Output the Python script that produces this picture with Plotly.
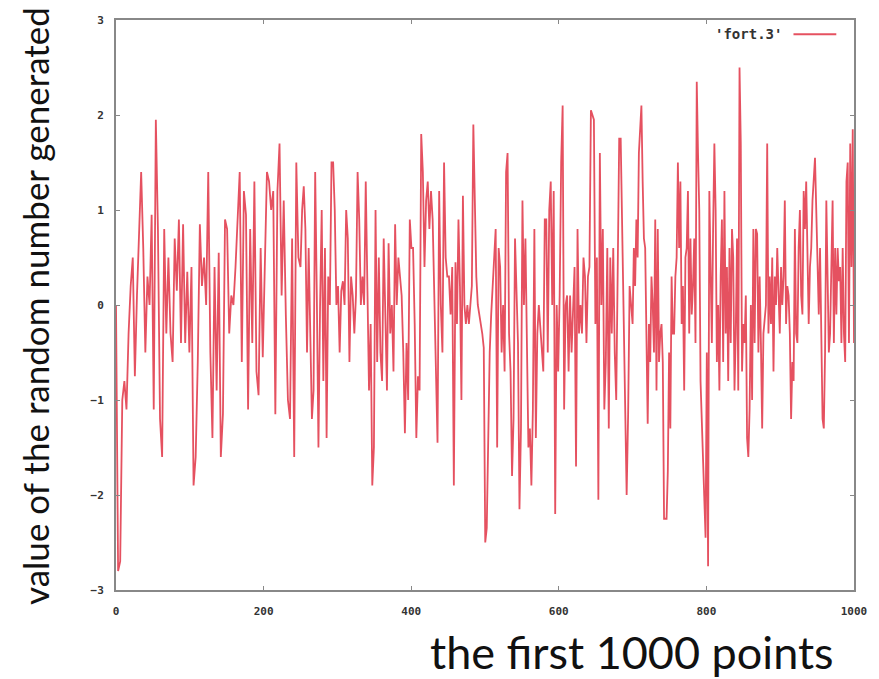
import numpy as np
import plotly.graph_objects as go

# values, by index ranges of the 1000 points
vals_0_250 = [0.0, -2.8, -2.7, -1.0, -0.8, -1.1, -0.3, 0.2, 0.5, -0.75, 0.1, 0.7, 1.4, 0.6, -0.5,
              0.3, 0.0, 0.95, -1.1, 1.95, 0.8, -1.2, -1.6, 0.8, -0.3, 0.5, -0.3, -0.6, 0.7, 0.15,
              0.9, -0.4, 0.85, -0.4, 0.35, -0.5, 0.4, -1.9, -1.6, -0.6, 0.85, 0.2, 0.5, 0.0, 1.4,
              -0.5, -1.4, 0.4, -0.9, 0.55, -1.6, -1.15, 0.9, 0.8, -0.3, 0.1, 0.0, 0.4, 1.0, 1.4,
              -0.6, 1.2, 0.95, -1.1, 0.8, -0.4, 1.3, -0.7, -0.95, 0.6, -0.55, 0.5, 1.4, 1.3, 1.0,
              1.2, -1.15, 1.2, 1.7, 0.1, 1.1, -0.1, -1.0, -1.2, 0.7, -1.6, 1.5, 0.5]
vals_250_460 = [0.4, 1.0, 1.25, 0.8, -0.5, 0.6, -0.3, -1.2, -0.9, 1.4, 0.1, -1.5, 0.0, 1.0, -0.8,
                0.6, -1.4, 0.3, 0.0, 1.5, 1.5, 1.0, 0.0, 0.2, -0.5, 0.15, 0.25, 0.0, 1.0, 0.7,
                -0.6, 0.3, 0.1, -0.3, 0.1, 1.4, 0.9, 0.0, 0.3, 0.0, 1.3, 0.25, -0.9, -0.2, -1.9,
                -1.5, 1.0, -0.6, 0.5, -0.5, -0.8, 0.7, -0.2, -0.9, 0.65, -0.3, 0.0, -0.7, 0.85,
                0.0, 0.5, 0.3, 0.1, -0.5, -1.35, -0.4, -1.0, 0.9, 0.6, 0.6, -0.2, -1.4, -0.75,
                -0.9, 1.8, 1.4, 0.4, 1.1, 1.3, 0.8, 1.2, 0.9, 0.0, -0.5, -1.45, 1.2, 0.0, -0.5,
                1.5, 0.5, 0.3, 0.3, -0.1, 0.4, -1.9]
vals_460_700 = [0.45, -0.2, 0.9, 0.2, -1.0, 1.15, 0.0, -0.2, 0.0, -0.2, 0.0, 0.2, 1.9, 1.1, 0.3,
                0.0, -0.1, -0.15, -0.3, -0.45, -2.5, -2.35, -1.5, -0.5, -0.1, 0.2, 0.5, 0.8, -1.5,
                0.6, 0.4, -0.5, 0.0, -0.7, 1.4, 1.6, -0.3, -0.7, -1.8, -1.2, 0.7, 0.2, -0.4,
                -2.15, -1.3, 1.1, 0.0, 0.7, -0.6, -1.5, -1.3, -1.9, -1.1, 0.8, -1.4, -0.3, 0.0,
                -0.2, -0.4, -0.7, 0.9, 0.9, -0.5, 1.0, 1.3, 0.0, 1.2, -2.2, 0.0, -0.7, 0.1, 1.5,
                2.1, -1.1, 0.0, 0.1, -0.7, 0.1, -0.5, 0.0, 0.4, -1.7, 0.8, -0.3, 0.0, -0.3, 0.5,
                0.3, -0.4, 0.3, 0.4, 2.05, 2.0, 1.95, -0.2, 0.5, -2.05, 1.6, 0.0, 0.8, -1.1, -0.6,
                0.6, -1.3, 0.5, -0.3, 0.6, -0.5, -1.0, 0.4, 1.75, 1.75, 0.7, 0.0, -1.2, -2.0,
                -1.15, 0.2, 0.0]
vals_700_1000 = [-0.2, 0.6, 0.2, 0.9, 0.5, 1.6, 1.9, 2.1, 1.3, 0.7, 0.6, -0.65, -1.25, -0.2, -0.6,
                 0.3, 0.0, -0.5, 0.9, -0.9, 0.8, -0.6, -0.3, -0.2, -0.6, -2.25, -2.25, -2.25,
                 -1.75, -0.5, -1.3, 0.3, -0.3, -0.3, 0.3, 0.5, 1.5, 0.6, 1.3, -0.2, 0.2, -0.9, 0.5,
                 0.6, 1.2, -0.3, 0.7, -0.1, 0.2, 0.7, -0.4, 2.35, 1.6, 1.0, -0.8, -1.2, -1.6, -1.9,
                 -2.45, -0.5, -2.75, 1.2, 0.5, -0.4, 0.8, 1.7, 1.0, -0.6, 0.0, -0.9, 0.3, 0.9, -0.6,
                 1.2, -0.3, 0.4, -0.8, 0.6, -0.4, 0.8, 0.5, -0.9, -0.3, 0.7, -0.9, 2.5, 1.7, -0.7,
                 -0.2, -0.4, 0.1, -1.4, -1.6, -1.1, 0.0, -1.0, 0.8, -0.4, 0.8, 0.75, -0.5, 0.3,
                 -0.4, -1.3, -0.3, -0.1, 0.0, 1.7, -0.3, 0.3, -0.2, 0.5, -0.7, 0.3, 0.0, 0.6, 0.2,
                 -0.3, 0.4, 0.0, 0.3, 1.1, -0.2, 0.2, 0.1, -0.3, -1.2, -0.6, -0.8, 0.8, -0.3, -0.4,
                 0.6, 1.0, 0.1, -0.1, 1.2, 0.8, 1.3, 0.5, -0.2, 0.4, 0.6, 1.1, 1.4, 1.55, 1.0, 0.3,
                 -0.1, 0.6, -0.5, -1.2, -1.3, -0.5, 1.1, 0.1, -0.5, -0.3, 0.5, 1.1, -0.4, 0.6, -0.1,
                 0.6, 0.25, 0.4, -0.4, 0.6, -0.3, -0.6, 1.3, 1.5, -0.4, 1.7, 0.4, 1.85, -0.4]

segments = [(0, 250, vals_0_250), (250, 460, vals_250_460),
            (460, 700, vals_460_700), (700, 1000, vals_700_1000)]

x_ticks = [0, 200, 400, 600, 800, 1000]
y_ticks = [-3, -2, -1, 0, 1, 2, 3]
series_name = "'fort.3'"
x_title = "the first 1000 points"
y_title = "value of the random number generated"

xs, ys = [], []
for i, (a, b, v) in enumerate(segments):
    last = i == len(segments) - 1
    xs.extend(np.linspace(a, b, len(v), endpoint=last).tolist())
    ys.extend(v)

line_color = "rgba(220,20,40,0.74)"

fig = go.Figure()
fig.add_trace(go.Scatter(x=xs, y=ys, mode="lines", name=series_name,
                         line=dict(color=line_color, width=1.8),
                         showlegend=False))

tickfont = dict(family="DejaVu Sans Mono", size=11, color="#333", weight="bold")
axis_common = dict(showgrid=False, zeroline=False, showline=True, linecolor="#888",
                   linewidth=2, mirror="ticks", ticks="inside", ticklen=4,
                   tickcolor="#888", tickfont=tickfont, ticklabeloverflow="allow")
fig.update_xaxes(range=[0, 1000], tickvals=x_ticks, ticklabelstandoff=10, **axis_common)
fig.update_yaxes(range=[-3, 3], tickvals=y_ticks, ticklabelstandoff=8, **axis_common)

# legend in gnuplot style: label, then line sample to its right
fig.add_annotation(xref="paper", yref="paper", x=0.905, y=0.975, text=series_name,
                   showarrow=False, xanchor="right", yanchor="middle",
                   font=dict(family="DejaVu Sans Mono", size=14, color="#333", weight="bold"))
fig.add_shape(type="line", xref="paper", yref="paper", x0=0.918, x1=0.976, y0=0.975, y1=0.975,
              line=dict(color=line_color, width=1.8))

fig.add_annotation(xref="paper", yref="paper", x=0.699, y=-0.109, text=x_title, showarrow=False,
                   xanchor="center", yanchor="middle", font=dict(family="Lato", size=45, color="#111"))
fig.add_annotation(xref="paper", yref="paper", x=-0.11, y=0.498, text=y_title, showarrow=False,
                   textangle=-90, xanchor="center", yanchor="middle",
                   font=dict(family="Lato", size=35, color="#111"))

fig.update_layout(width=879, height=679, autosize=False, paper_bgcolor="white",
                  plot_bgcolor="white", margin=dict(l=116, r=18, t=20, b=89))

# drop the browser's default 8 px body margin so the figure fills the window exactly
post = ("document.documentElement.style.overflow='hidden';"
        "document.body.style.margin='0';document.body.style.overflow='hidden';"
        "var gd=document.getElementById('{plot_id}');"
        "Plotly.relayout(gd,{width:879,height:679,autosize:false});")
fig.write_html("out.html", post_script=post,
               config={"displayModeBar": False, "responsive": False})
